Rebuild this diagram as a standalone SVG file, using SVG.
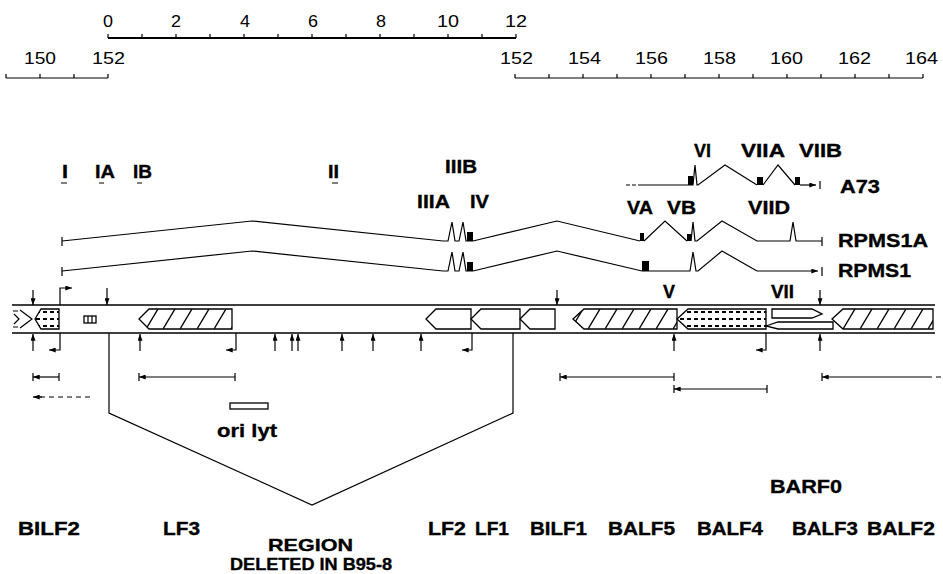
<svg xmlns="http://www.w3.org/2000/svg" width="943" height="574" viewBox="0 0 943 574">
<style>
text{font-family:"Liberation Sans",Arial,Helvetica,sans-serif;fill:#000}
.n{font-size:16px}
.b{font-size:18.5px;font-weight:bold}
.b text{stroke:#000;stroke-width:0.35}
.r{font-size:17px}
.l{fill:none;stroke:#000;stroke-width:1.2}
.s{fill:none;stroke:#000;stroke-width:1.6}
.g{stroke:#000;stroke-width:1.3;fill:#fff}
.h{stroke:#000;stroke-width:1.3;fill:url(#hatch)}
.d{stroke:#000;stroke-width:1.3;fill:url(#dots)}
.k{fill:#000}
.a{fill:none;stroke:#000;stroke-width:1.2;marker-end:url(#ah)}
</style>
<defs>
<marker id="ah" viewBox="0 0 8 6" refX="8" refY="3" markerWidth="7" markerHeight="5" markerUnits="userSpaceOnUse" orient="auto"><path d="M0,0 L8,3 L0,6 z"/></marker>
<pattern id="hatch" patternUnits="userSpaceOnUse" x="146" y="309" width="17" height="20"><line x1="0" y1="20" x2="12" y2="0" stroke="#000" stroke-width="1.4"/></pattern>
<pattern id="dots" patternUnits="userSpaceOnUse" x="0" y="309" width="7" height="7"><rect x="1" y="2" width="4" height="2" fill="#000"/></pattern>
</defs>

<g id="scales">
<g class="n">
<text x="103" y="27" textLength="10" lengthAdjust="spacingAndGlyphs">0</text>
<text x="171" y="27" textLength="10" lengthAdjust="spacingAndGlyphs">2</text>
<text x="240" y="27" textLength="10" lengthAdjust="spacingAndGlyphs">4</text>
<text x="308" y="27" textLength="10" lengthAdjust="spacingAndGlyphs">6</text>
<text x="376" y="27" textLength="10" lengthAdjust="spacingAndGlyphs">8</text>
<text x="437" y="27" textLength="22" lengthAdjust="spacingAndGlyphs">10</text>
<text x="505" y="27" textLength="22" lengthAdjust="spacingAndGlyphs">12</text>
<text x="24" y="64" textLength="32" lengthAdjust="spacingAndGlyphs">150</text>
<text x="92" y="64" textLength="33" lengthAdjust="spacingAndGlyphs">152</text>
<text x="500" y="64" textLength="33" lengthAdjust="spacingAndGlyphs">152</text>
<text x="568" y="64" textLength="33" lengthAdjust="spacingAndGlyphs">154</text>
<text x="635" y="64" textLength="33" lengthAdjust="spacingAndGlyphs">156</text>
<text x="703" y="64" textLength="33" lengthAdjust="spacingAndGlyphs">158</text>
<text x="770" y="64" textLength="33" lengthAdjust="spacingAndGlyphs">160</text>
<text x="838" y="64" textLength="33" lengthAdjust="spacingAndGlyphs">162</text>
<text x="905" y="64" textLength="33" lengthAdjust="spacingAndGlyphs">164</text>
</g>
<path d="M108,38H516" stroke="#000" stroke-width="2"/>
<path class="l" d="M108,34V38M142,34V38M176,34V38M210,34V38M244,34V38M278,34V38M312,34V38M346,34V38M380,34V38M414,34V38M448,34V38M482,34V38M516,34V38"/>
<path class="l" d="M6,78H108M6,74V78M40,74V78M74,74V78M108,74V78"/>
<path class="l" d="M515,78H923M515,74V78M549,74V78M583,74V78M617,74V78M651,74V78M685,74V78M719,74V78M753,74V78M787,74V78M821,74V78M855,74V78M889,74V78M923,74V78"/>
</g>

<g id="exon-labels" class="b">
<text x="62" y="178" textLength="6" lengthAdjust="spacingAndGlyphs">I</text>
<text x="95" y="178" textLength="20" lengthAdjust="spacingAndGlyphs">IA</text>
<text x="133" y="178" textLength="19" lengthAdjust="spacingAndGlyphs">IB</text>
<text x="328" y="178" textLength="11" lengthAdjust="spacingAndGlyphs">II</text>
<text x="445" y="173" textLength="32" lengthAdjust="spacingAndGlyphs">IIIB</text>
<text x="417" y="208" textLength="33" lengthAdjust="spacingAndGlyphs">IIIA</text>
<text x="470" y="208" textLength="19" lengthAdjust="spacingAndGlyphs">IV</text>
<text x="694" y="157" textLength="17" lengthAdjust="spacingAndGlyphs">VI</text>
<text x="741" y="157" textLength="44" lengthAdjust="spacingAndGlyphs">VIIA</text>
<text x="799" y="157" textLength="43" lengthAdjust="spacingAndGlyphs">VIIB</text>
<text x="627" y="214" textLength="26" lengthAdjust="spacingAndGlyphs">VA</text>
<text x="667" y="214" textLength="29" lengthAdjust="spacingAndGlyphs">VB</text>
<text x="748" y="214" textLength="42" lengthAdjust="spacingAndGlyphs">VIID</text>
<text x="663" y="298" textLength="12" lengthAdjust="spacingAndGlyphs">V</text>
<text x="771" y="298" textLength="23" lengthAdjust="spacingAndGlyphs">VII</text>
<path class="l" d="M61,183H67M99,183H104M137,183H142M332,183H338"/>
</g>

<g id="transcripts">
<g id="A73">
<path d="M626,185H638" class="l" stroke-dasharray="4,2"/>
<polyline class="l" points="638,185 688,185 693,185 695,165 697,185 698,185 725,165 757,185"/>
<polyline class="l" points="763,185 778,165 795,185"/>
<path class="a" d="M800,185H816"/>
<path class="l" d="M820,181V189"/>
<rect class="k" x="688" y="176" width="5" height="9"/>
<rect class="k" x="757" y="177" width="6" height="8"/>
<rect class="k" x="795" y="177" width="5" height="8"/>
<g class="b"><text x="840" y="193" textLength="40" lengthAdjust="spacingAndGlyphs">A73</text></g>
</g>
<g id="RPMS1A">
<polyline class="l" points="62,241 252,221 443,241 448,241 452,222 455,241 459,241 463,222 466,241 473,241 557,221 640,241"/>
<polyline class="l" points="644,241 665,221 687,241"/>
<polyline class="l" points="691,241 693,222 695,241 697,241 722,221 757,241 790,241 793,222 796,241 822,241"/>
<path class="l" d="M62,237V246M822,237V246"/>
<rect class="k" x="467" y="232" width="6" height="9"/>
<rect class="k" x="640" y="233" width="4" height="8"/>
<rect class="k" x="687" y="234" width="4" height="7"/>
<g class="b"><text x="838" y="247" textLength="90" lengthAdjust="spacingAndGlyphs">RPMS1A</text></g>
</g>
<g id="RPMS1">
<polyline class="l" points="62,271 252,251 443,271 448,271 452,252 455,271 459,271 463,252 466,271 473,271 557,251 642,271 690,271 693,252 696,271 698,271 722,251 757,271"/>
<path class="a" d="M757,271H818"/>
<path class="l" d="M62,267V276M822,267V276"/>
<rect class="k" x="467" y="262" width="6" height="9"/>
<rect class="k" x="642" y="261" width="7" height="10"/>
<g class="b"><text x="838" y="277" textLength="73" lengthAdjust="spacingAndGlyphs">RPMS1</text></g>
</g>
</g>

<g id="genome-bar">
<path class="s" d="M12,305H935M12,333H935"/>
<g id="BILF2-orf">
<path class="l" d="M20,310L32,319L20,328M14,314L19,319L14,324M13,311H18M13,327H18"/>
<polygon class="d" points="35,319 41,309 59,309 59,329 41,329"/>
</g>
<g id="box"><rect class="g" x="84" y="316" width="12" height="7"/><path class="l" d="M88,316V323M92,316V323"/></g>
<polygon id="LF3-orf" class="h" points="139,319 149,309 232,309 232,329 149,329"/>
<polygon id="LF2-orf" class="g" points="426,319 436,309 471,309 471,329 436,329"/>
<polygon id="LF1-orf" class="g" points="471,319 481,309 520,309 520,329 481,329"/>
<polygon id="BILF1-orf" class="g" points="520,319 530,309 555,309 555,329 530,329"/>
<polygon id="BALF5-orf" class="h" points="573,319 584,309 677,309 677,329 584,329"/>
<polygon id="BALF4-orf" class="d" points="677,319 688,309 766,309 766,329 688,329"/>
<polygon id="BARF0-orf" class="g" points="772,309 812,309 822,314 812,318 772,318"/>
<polygon id="BARF0b-orf" class="g" points="766,326 778,322 833,322 833,329 778,329"/>
<polygon id="BALF3-orf" class="h" points="832,319 843,309 933,309 933,329 843,329"/>
</g>

<g id="connectors">
<path class="a" d="M33,290V305"/>
<path class="a" d="M107,288V305"/>
<path class="a" d="M557,290V305"/>
<path class="a" d="M820,290V305"/>
<path class="a" d="M60,305V288H72"/>
<path class="a" d="M33,351V334"/>
<path class="a" d="M140,351V334"/>
<path class="a" d="M275,351V334"/>
<path class="a" d="M292,351V334"/>
<path class="a" d="M298,351V334"/>
<path class="a" d="M342,351V334"/>
<path class="a" d="M373,351V334"/>
<path class="a" d="M421,351V334"/>
<path class="a" d="M674,351V334"/>
<path class="a" d="M820,351V334"/>
<path class="a" d="M60,333V350H49"/>
<path class="a" d="M236,333V350H226"/>
<path class="a" d="M472,333V350H462"/>
<path class="a" d="M766,333V350H756"/>
<polyline class="l" points="109,333 109,413 312,505 513,413 513,333" stroke-width="1"/>
<path class="a" d="M59,377H33"/>
<path class="a" d="M235,377H139"/>
<path class="a" d="M674,377H560"/>
<path class="a" d="M767,389H674"/>
<path class="a" d="M927,377H822"/>
<path class="l" d="M33,373V381M59,373V381M139,373V381M235,373V381M560,373V381M674,373V381M674,385V393M767,385V393M822,373V381"/>
<path class="l" d="M927,377H943" stroke-dasharray="5,4"/>
<path class="l" d="M90,397H40" stroke-dasharray="5,4"/>
<path class="a" d="M42,397H33"/>
</g>

<g id="ori-lyt" class="b">
<rect class="g" x="230" y="403" width="38" height="6"/>
<text x="217" y="437" textLength="60" lengthAdjust="spacingAndGlyphs">ori lyt</text>
</g>

<g id="gene-labels" class="b">
<text x="18" y="535" textLength="62" lengthAdjust="spacingAndGlyphs">BILF2</text>
<text x="163" y="535" textLength="37" lengthAdjust="spacingAndGlyphs">LF3</text>
<text x="428" y="535" textLength="38" lengthAdjust="spacingAndGlyphs">LF2</text>
<text x="475" y="535" textLength="34" lengthAdjust="spacingAndGlyphs">LF1</text>
<text x="530" y="535" textLength="57" lengthAdjust="spacingAndGlyphs">BILF1</text>
<text x="608" y="535" textLength="67" lengthAdjust="spacingAndGlyphs">BALF5</text>
<text x="697" y="535" textLength="66" lengthAdjust="spacingAndGlyphs">BALF4</text>
<text x="792" y="535" textLength="66" lengthAdjust="spacingAndGlyphs">BALF3</text>
<text x="867" y="535" textLength="68" lengthAdjust="spacingAndGlyphs">BALF2</text>
<text x="770" y="493" textLength="72" lengthAdjust="spacingAndGlyphs">BARF0</text>
<text class="r" x="268" y="551" textLength="85" lengthAdjust="spacingAndGlyphs">REGION</text>
<text class="r" x="230" y="570" textLength="162" lengthAdjust="spacingAndGlyphs">DELETED IN B95-8</text>
</g>
</svg>
